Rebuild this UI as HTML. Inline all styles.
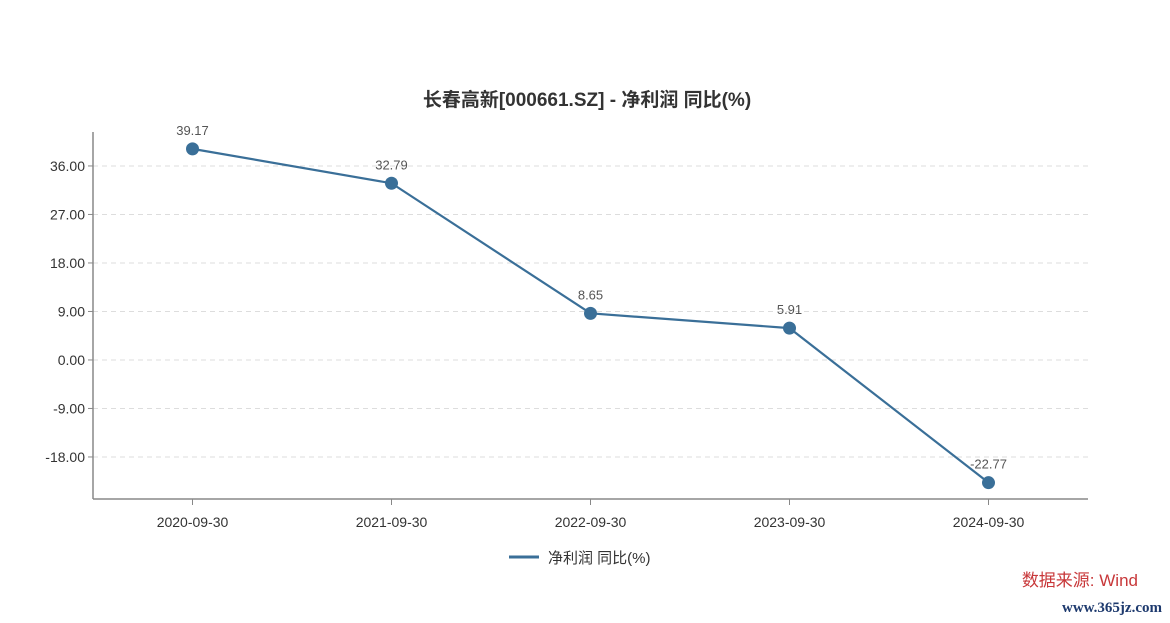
<!DOCTYPE html>
<html><head><meta charset="utf-8"><style>
html,body{margin:0;padding:0;background:#fff;}
svg{display:block;font-family:"Liberation Sans","Noto Sans CJK SC",sans-serif;}
</style></head><body>
<svg id="chart" width="1170" height="623" viewBox="0 0 1170 623">
<text x="587" y="106" text-anchor="middle" font-size="19" font-weight="bold" fill="#333">长春高新[000661.SZ] - 净利润 同比(%)</text>
<g id="grid"></g><g id="axes"></g><g id="series"></g>
<g>
<line x1="509" y1="557" x2="539" y2="557" stroke="#3a6f98" stroke-width="3"/>
<text x="548" y="563" font-size="15" fill="#333">净利润 同比(%)</text>
</g>
<text x="1138" y="586" text-anchor="end" font-size="17" fill="#c8383a">数据来源: Wind</text>
<text x="1162" y="612" text-anchor="end" font-size="15" fill="#1e3a6e" font-family="Liberation Serif,serif" font-weight="bold">www.365jz.com</text>
</svg>
<script>
const categories=["2020-09-30","2021-09-30","2022-09-30","2023-09-30","2024-09-30"];
const values=[39.17,32.79,8.65,5.91,-22.77];
const yTicks=[-18,-9,0,9,18,27,36];
const NS="http://www.w3.org/2000/svg";
const L=93,R=1088,T=132,B=499,yMin=-25.8,yMax=42.3;
const y=v=>B-(v-yMin)/(yMax-yMin)*(B-T);
const bw=(R-L)/categories.length;
const x=i=>L+bw*(i+0.5);
function mk(p,tag,a){const e=document.createElementNS(NS,tag);for(const k in a)e.setAttribute(k,a[k]);p.appendChild(e);return e;}
const grid=document.getElementById('grid'),axes=document.getElementById('axes'),ser=document.getElementById('series');
yTicks.forEach(t=>{
 const g=mk(grid,'line',{x1:L,x2:R,y1:y(t),y2:y(t),stroke:'#ddd','stroke-dasharray':'5,4'});
 
 
 mk(axes,'line',{x1:L-5,x2:L,y1:y(t),y2:y(t),stroke:'#888'});
 const tx=mk(axes,'text',{x:L-8,y:y(t)+5,'text-anchor':'end','font-size':14,fill:'#333'});
 tx.textContent=t.toFixed(2);
 
 
});
const ya=mk(axes,'line',{x1:L,x2:L,y1:T,y2:B,stroke:'#888','stroke-width':1.5});


const xa=mk(axes,'line',{x1:L,x2:R,y1:B,y2:B,stroke:'#888','stroke-width':1.5});


categories.forEach((c,i)=>{
 mk(axes,'line',{x1:x(i),x2:x(i),y1:B,y2:B+6,stroke:'#888'});
 const tx=mk(axes,'text',{x:x(i),y:B+28,'text-anchor':'middle','font-size':14,fill:'#333'});
 tx.textContent=c;
 
 
});
const pl=mk(ser,'polyline',{points:values.map((v,i)=>x(i)+','+y(v)).join(' '),fill:'none',stroke:'#3a6f98','stroke-width':2.2});


values.forEach((v,i)=>{
 const c=mk(ser,'circle',{cx:x(i),cy:y(v),r:6.5,fill:'#3a6f98'});
 
 
 const t=mk(ser,'text',{x:x(i),y:y(v)-14,'text-anchor':'middle','font-size':13,fill:'#555'});
 t.textContent=v.toFixed(2);
 
 
});
</script>
</body></html>
